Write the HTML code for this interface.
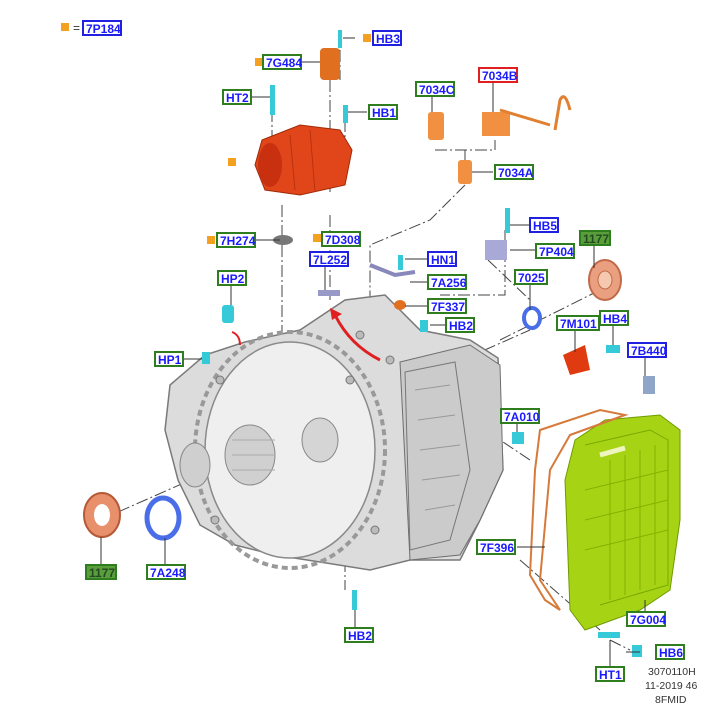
<!DOCTYPE html>
<html><head><meta charset="utf-8"><style>
html,body{margin:0;padding:0;background:#fff;}
svg{display:block;font-family:"Liberation Sans",Arial,sans-serif;}
.lb rect{fill:#fff;stroke-width:2;}
.lb text{fill:#1a1aff;font-weight:bold;font-size:12px;}
.g rect{stroke:#2e7d1e;}
.b rect{stroke:#2020e0;}
.r rect{stroke:#e02020;}
.f rect{fill:#5a9e3c;stroke:#2e7d1e;}
.f text{fill:#234a23;}
.ln{stroke:#333;stroke-width:1;fill:none;}
.dd{stroke:#444;stroke-width:1;stroke-dasharray:12 3 2 3;fill:none;}
</style></head><body>
<svg width="715" height="705" viewBox="0 0 715 705" xmlns="http://www.w3.org/2000/svg">
<g class="dd">
<path d="M282 205 V235 M282 245 V350"/>
<path d="M330 80 V195 M330 215 V300"/>
<path d="M340 50 V80"/>
<path d="M272 110 V150"/>
<path d="M345 120 V140"/>
<path d="M435 150 H495 V140 M465 150 V160 M465 185 L430 220 L370 245 V300 M380 300 V330"/>
<path d="M505 230 V295 H440 M488 260 L530 300"/>
<path d="M600 290 L500 340"/>
<path d="M100 520 L530 330"/>
<path d="M470 420 L530 460"/>
<path d="M520 560 L600 630"/>
<path d="M610 640 L630 650"/>
<path d="M345 560 V590"/>
</g>
<!-- transmission body -->
<path d="M170 385 L205 355 L245 342 L300 330 L345 300 L385 295 L420 330 L470 340 L498 358 L503 470 L480 520 L460 560 L410 560 L370 570 L320 562 L275 555 L235 545 L200 525 L178 480 L165 430 Z" fill="#dcdcdc" stroke="#7a7a7a" stroke-width="1.5"/>
<path d="M400 362 L470 345 L500 365 L503 470 L480 520 L460 555 L410 560 Z" fill="#cbcbcb" stroke="#6e6e6e"/>
<ellipse cx="290" cy="450" rx="85" ry="108" fill="#efefef" stroke="#8a8a8a" stroke-width="1.5"/>
<ellipse cx="290" cy="450" rx="95" ry="118" fill="none" stroke="#999" stroke-width="4" stroke-dasharray="6 4"/>
<ellipse cx="250" cy="455" rx="25" ry="30" fill="#d0d0d0" stroke="#888"/>
<path d="M232 440 H275 M232 455 H275 M232 470 H275" stroke="#aaa"/>
<ellipse cx="320" cy="440" rx="18" ry="22" fill="#d5d5d5" stroke="#888"/>
<ellipse cx="195" cy="465" rx="15" ry="22" fill="#cfcfcf" stroke="#888"/>
<path d="M405 372 L455 362 L470 470 L450 540 L410 550 Z" fill="none" stroke="#777"/>
<path d="M415 390 L450 385 M418 420 L455 415 M420 450 L460 445 M422 480 L460 475 M425 510 L455 505" stroke="#999"/>
<g fill="#bbb" stroke="#777"><circle cx="220" cy="380" r="4"/><circle cx="360" cy="335" r="4"/><circle cx="390" cy="360" r="4"/><circle cx="375" cy="530" r="4"/><circle cx="215" cy="520" r="4"/><circle cx="350" cy="380" r="4"/></g>
<!-- red arrow -->
<path d="M335 315 Q350 345 380 360" stroke="#e02020" stroke-width="3" fill="none"/>
<path d="M330 308 L342 314 L332 320 Z" fill="#e02020"/>
<path d="M240 345 Q240 335 232 332" stroke="#e02020" stroke-width="2" fill="none"/>
<!-- green pan -->
<path d="M575 440 L605 420 L660 415 L680 430 L680 520 L670 590 L640 610 L585 630 L570 610 L565 480 Z" fill="#a6d414" stroke="#6f9a00"/>
<path d="M585 445 L650 430 L668 440 L668 585 L600 605" fill="none" stroke="#79a800"/>
<path d="M600 455 L625 448" stroke="#eef5c0" stroke-width="5"/>
<g stroke="#86b000"><path d="M610 460 V600 M625 455 V595 M640 450 V590 M655 445 V585 M585 490 L668 470 M585 520 L668 500 M585 550 L668 530"/></g>
<!-- gasket -->
<path d="M540 430 L600 410 L625 415 L570 435 L550 470 L540 580 L560 610 L545 600 L530 575 L535 470 Z" fill="none" stroke="#d57a3a" stroke-width="2"/>
<!-- red pump -->
<path d="M262 140 L300 125 L340 130 L352 150 L345 185 L300 195 L265 190 L255 165 Z" fill="#e1461a" stroke="#a02a08"/>
<ellipse cx="270" cy="165" rx="12" ry="22" fill="#c83010"/>
<path d="M290 135 L295 190 M310 130 L315 192" stroke="#b83210"/>
<!-- seals -->
<ellipse cx="102" cy="515" rx="18" ry="22" fill="#e8906c" stroke="#b55a38" stroke-width="2"/>
<ellipse cx="102" cy="515" rx="8" ry="11" fill="#fff"/>
<ellipse cx="163" cy="518" rx="16" ry="20" fill="#fff" stroke="#4a6ee8" stroke-width="5"/>
<ellipse cx="605" cy="280" rx="16" ry="20" fill="#eaa080" stroke="#c06a48" stroke-width="2"/>
<ellipse cx="605" cy="280" rx="7" ry="9" fill="#f6c8b0" stroke="#c06a48"/>
<ellipse cx="532" cy="318" rx="8" ry="10" fill="#fff" stroke="#4a6ee8" stroke-width="4"/>
<!-- small parts -->
<rect x="320" y="48" width="20" height="32" rx="4" fill="#e07020"/>
<rect x="338" y="30" width="4" height="18" fill="#36c9d8"/>
<rect x="270" y="85" width="5" height="30" fill="#36c9d8"/>
<rect x="343" y="105" width="5" height="18" fill="#36c9d8"/>
<ellipse cx="283" cy="240" rx="10" ry="5" fill="#777"/>
<rect x="428" y="112" width="16" height="28" rx="3" fill="#f09040"/>
<rect x="482" y="112" width="28" height="24" fill="#f09040"/>
<path d="M500 110 L550 125 M555 130 L560 100 Q565 90 570 110" stroke="#e08030" stroke-width="3" fill="none"/>
<rect x="458" y="160" width="14" height="24" rx="3" fill="#f09040"/>
<rect x="485" y="240" width="22" height="20" fill="#a9a9d8"/>
<rect x="505" y="208" width="5" height="25" fill="#36c9d8"/>
<path d="M370 265 L395 275 L415 272" stroke="#8888bb" stroke-width="4" fill="none"/>
<rect x="398" y="255" width="5" height="15" fill="#36c9d8"/>
<ellipse cx="400" cy="305" rx="6" ry="5" fill="#e07020"/>
<rect x="420" y="320" width="8" height="12" fill="#36c9d8"/>
<rect x="318" y="290" width="22" height="6" fill="#9999c8"/>
<rect x="222" y="305" width="12" height="18" rx="3" fill="#36c9d8"/>
<rect x="202" y="352" width="8" height="12" fill="#36c9d8"/>
<path d="M563 355 L585 345 L590 370 L570 375 Z" fill="#e03a10"/>
<rect x="606" y="345" width="14" height="8" fill="#36c9d8"/>
<rect x="643" y="376" width="12" height="18" fill="#8fa6c8"/>
<rect x="512" y="432" width="12" height="12" fill="#36c9d8"/>
<rect x="352" y="590" width="5" height="20" fill="#36c9d8"/>
<rect x="598" y="632" width="22" height="6" fill="#36c9d8"/>
<rect x="632" y="645" width="10" height="12" fill="#36c9d8"/>
<g class="ln">
<path d="M301 62 H320 M355 38 H343 M252 97 H270 M367 112 H348 M432 93 V112 M493 75 V112 M493 172 H472 M530 225 H510 M594 240 V268 M256 240 H280 M337 240 V245 M535 250 H510 M427 259 H405 M325 265 V290 M427 282 H410 M231 285 V305 M530 283 V310 M427 306 H405 M447 325 H430 M575 323 V352 M613 323 V345 M183 359 H202 M645 355 V376 M517 416 V432 M517 547 H545 M101 537 V565 M165 538 V565 M645 600 V612 M355 610 V628 M640 652 H626 M610 640 V667"/>
</g>
<g fill="#f4a020">
<rect x="61" y="23" width="8" height="8"/>
<rect x="363" y="34" width="8" height="8"/>
<rect x="255" y="58" width="8" height="8"/>
<rect x="228" y="158" width="8" height="8"/>
<rect x="207" y="236" width="8" height="8"/>
<rect x="313" y="234" width="8" height="8"/>
</g>
<text x="73" y="32" font-size="12" fill="#333">=</text>
<g class="lb b"><rect x="83" y="21" width="38" height="14"/><text x="86" y="33">7P184</text></g>
<g class="lb b"><rect x="373" y="31" width="28" height="14"/><text x="376" y="43">HB3</text></g>
<g class="lb g"><rect x="263" y="55" width="38" height="14"/><text x="266" y="67">7G484</text></g>
<g class="lb g"><rect x="223" y="90" width="28" height="14"/><text x="226" y="102">HT2</text></g>
<g class="lb g"><rect x="369" y="105" width="28" height="14"/><text x="372" y="117">HB1</text></g>
<g class="lb g"><rect x="416" y="82" width="38" height="14"/><text x="419" y="94">7034C</text></g>
<g class="lb r"><rect x="479" y="68" width="38" height="14"/><text x="482" y="80">7034B</text></g>
<g class="lb g"><rect x="495" y="165" width="38" height="14"/><text x="498" y="177">7034A</text></g>
<g class="lb b"><rect x="530" y="218" width="28" height="14"/><text x="533" y="230">HB5</text></g>
<g class="lb f"><rect x="580" y="231" width="30" height="14"/><text x="583" y="243">1177</text></g>
<g class="lb g"><rect x="217" y="233" width="38" height="14"/><text x="220" y="245">7H274</text></g>
<g class="lb g"><rect x="322" y="232" width="38" height="14"/><text x="325" y="244">7D308</text></g>
<g class="lb g"><rect x="536" y="244" width="38" height="14"/><text x="539" y="256">7P404</text></g>
<g class="lb b"><rect x="428" y="252" width="28" height="14"/><text x="431" y="264">HN1</text></g>
<g class="lb b"><rect x="310" y="252" width="38" height="14"/><text x="313" y="264">7L252</text></g>
<g class="lb g"><rect x="428" y="275" width="38" height="14"/><text x="431" y="287">7A256</text></g>
<g class="lb g"><rect x="218" y="271" width="28" height="14"/><text x="221" y="283">HP2</text></g>
<g class="lb g"><rect x="515" y="270" width="32" height="14"/><text x="518" y="282">7025</text></g>
<g class="lb g"><rect x="428" y="299" width="38" height="14"/><text x="431" y="311">7F337</text></g>
<g class="lb g"><rect x="446" y="318" width="28" height="14"/><text x="449" y="330">HB2</text></g>
<g class="lb g"><rect x="557" y="316" width="42" height="14"/><text x="560" y="328">7M101</text></g>
<g class="lb g"><rect x="600" y="311" width="28" height="14"/><text x="603" y="323">HB4</text></g>
<g class="lb g"><rect x="155" y="352" width="28" height="14"/><text x="158" y="364">HP1</text></g>
<g class="lb b"><rect x="628" y="343" width="38" height="14"/><text x="631" y="355">7B440</text></g>
<g class="lb g"><rect x="501" y="409" width="38" height="14"/><text x="504" y="421">7A010</text></g>
<g class="lb g"><rect x="477" y="540" width="38" height="14"/><text x="480" y="552">7F396</text></g>
<g class="lb f"><rect x="86" y="565" width="30" height="14"/><text x="89" y="577">1177</text></g>
<g class="lb g"><rect x="147" y="565" width="38" height="14"/><text x="150" y="577">7A248</text></g>
<g class="lb g"><rect x="627" y="612" width="38" height="14"/><text x="630" y="624">7G004</text></g>
<g class="lb g"><rect x="345" y="628" width="28" height="14"/><text x="348" y="640">HB2</text></g>
<g class="lb g"><rect x="656" y="645" width="28" height="14"/><text x="659" y="657">HB6</text></g>
<g class="lb g"><rect x="596" y="667" width="28" height="14"/><text x="599" y="679">HT1</text></g>
<g font-size="10.5" fill="#333">
<text x="648" y="675">3070110H</text>
<text x="645" y="689">11-2019 46</text>
<text x="655" y="703">8FMID</text>
</g>
</svg>
</body></html>
